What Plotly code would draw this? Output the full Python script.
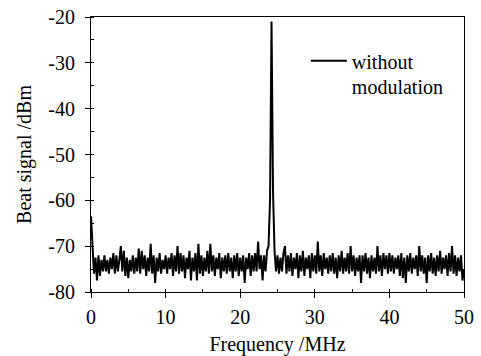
import plotly.graph_objects as go

freq_step_mhz = 0.2

beat_dbm = [
    -63.5, -70, -76, -72.5, -77.5, -72, -76.5, -73, -75.5, -72,
    -75.5, -73, -76, -72.5, -75, -71.5, -76, -72, -75.5, -73,
    -70, -75.5, -71, -76.5, -72.5, -77, -73, -75.5, -72, -76,
    -72.5, -75.5, -70.5, -76, -71, -75, -72, -76.5, -72.5, -75.5,
    -69.5, -76, -72, -78, -72.5, -75.5, -71.5, -76, -73, -75,
    -72, -76, -72.5, -75, -71.5, -76.5, -72, -75.5, -70, -76,
    -71.5, -75.5, -72, -77, -72.5, -75, -71, -77.5, -72.5, -75.5,
    -71.5, -77.5, -69.5, -76, -72, -76.5, -72.5, -75.5, -71, -76,
    -69.5, -75.5, -72, -76.5, -72.5, -75, -71.5, -77, -72.5, -75.5,
    -72, -76, -71.5, -75.5, -72.5, -77, -72, -75.5, -71.5, -76.5,
    -72.5, -75.5, -72, -78, -72.5, -75, -71.5, -76.5, -72, -75.5,
    -71.5, -75.5, -69, -75, -72, -77.5, -72, -75.5, -71, -70,
    -60, -21, -58, -71, -75.5, -72, -76, -72.5, -75.5, -71.5,
    -70, -76, -72, -75.5, -71.5, -76.5, -72.5, -75, -71.5, -77,
    -72, -75.5, -71, -76.5, -72.5, -75, -72, -77, -71.5, -75.5,
    -72, -76, -69, -75.5, -72, -76.5, -71.5, -75, -72.5, -76,
    -72, -75.5, -71.5, -76, -72.5, -77, -72, -75.5, -71, -76,
    -72.5, -75.5, -71.5, -76, -70, -75.5, -72, -76.5, -72.5, -75.5,
    -72, -78, -72, -75.5, -71.5, -76, -72.5, -77, -72, -75.5,
    -72.5, -76, -70, -75.5, -72, -76.5, -71.5, -75, -72, -76,
    -71.5, -75.5, -72, -76, -72.5, -75, -72, -76.5, -71.5, -77,
    -72.5, -78, -72, -75.5, -71.5, -76, -72.5, -75, -72, -76.5,
    -70, -75.5, -72, -76, -72.5, -78, -72, -75.5, -71.5, -76,
    -72.5, -76.5, -72, -75.5, -71, -76, -72.5, -75, -72, -76.5,
    -71.5, -75.5, -70, -76, -72, -76.5, -72.5, -75.5, -72, -77.5,
    -75,
]
freq_mhz = [round(i * freq_step_mhz, 2) for i in range(len(beat_dbm))]

x_ticks = [0, 10, 20, 30, 40, 50]
x_tick_labels = ["0", "10", "20", "30", "40", "50"]
y_ticks = [-80, -70, -60, -50, -40, -30, -20]
y_tick_labels = ["-80", "-70", "-60", "-50", "-40", "-30", "-20"]

font_family = "Times New Roman, Liberation Serif, serif"
font_size = 20

fig = go.Figure()
fig.add_trace(go.Scatter(
    x=freq_mhz, y=beat_dbm, mode="lines",
    line=dict(color="black", width=2.0),
    name="without<br>modulation",
))

axis_common = dict(
    showline=True, linecolor="black", linewidth=1, mirror=True,
    ticks="outside", ticklen=5, tickcolor="black", tickwidth=1,
    showgrid=False, zeroline=False, automargin=False,
    tickfont=dict(family=font_family, size=font_size, color="black"),
)

fig.update_xaxes(
    range=[0, 50], tickvals=x_ticks, ticktext=x_tick_labels,
    ticklabelstandoff=2,
    minor=dict(dtick=5, ticks="inside", ticklen=3, tickcolor="black", showgrid=False),
    title=dict(text="Frequency /MHz", font=dict(family=font_family, size=font_size, color="black"), standoff=17),
    **axis_common,
)
fig.update_yaxes(
    range=[-80, -20], tickvals=y_ticks, ticktext=y_tick_labels,
    ticklabelstandoff=6,
    minor=dict(dtick=5, ticks="inside", ticklen=3, tickcolor="black", showgrid=False),
    title=dict(text="Beat signal /dBm", font=dict(family=font_family, size=font_size, color="black"), standoff=11),
    **axis_common,
)

fig.update_layout(
    width=481, height=356,
    margin=dict(l=91, r=17, t=17, b=64),
    paper_bgcolor="white", plot_bgcolor="white",
    showlegend=True,
    legend=dict(
        x=0.576, y=0.912, xanchor="left", yanchor="top",
        bgcolor="rgba(0,0,0,0)", borderwidth=0, valign="top",
        font=dict(family=font_family, size=font_size, color="black"),
        itemwidth=36, tracegroupgap=0,
    ),
)

fig.write_html(
    "out.html",
    config={"displayModeBar": False},
    post_script="document.body.style.margin='0';",
)
